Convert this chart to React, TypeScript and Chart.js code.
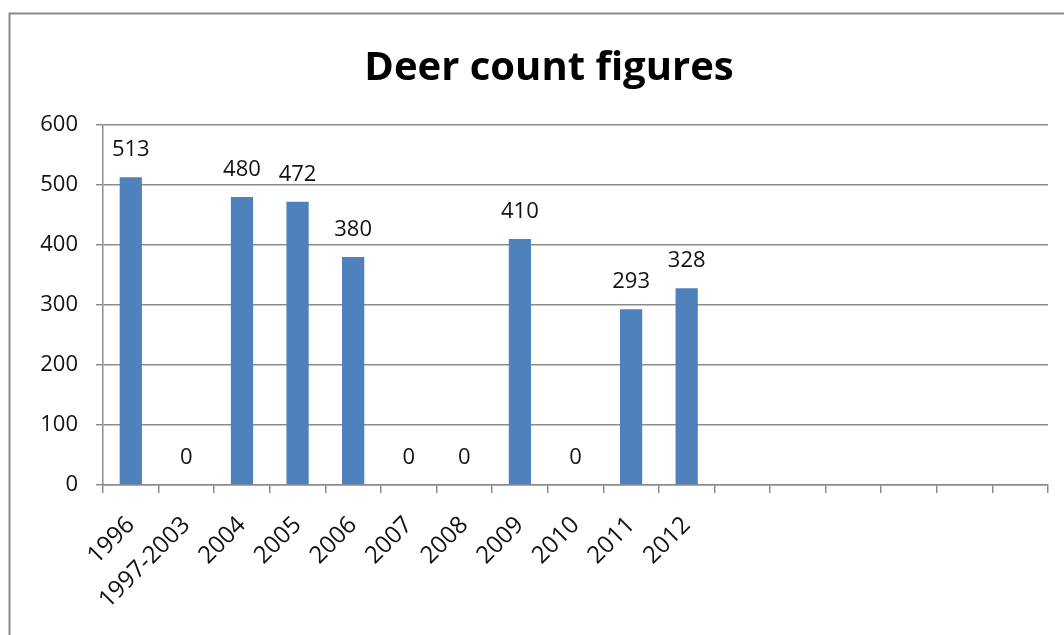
import React, { useEffect, useRef } from "react";
import { Chart, registerables } from "chart.js";

Chart.register(...registerables);

const TITLE = "Deer count figures";
const categories = ["1996", "1997-2003", "2004", "2005", "2006", "2007", "2008", "2009", "2010", "2011", "2012", "", "", "", "", "", ""];
const deerCounts: (number | null)[] = [513, 0, 480, 472, 380, 0, 0, 410, 0, 293, 328, null, null, null, null, null, null];
const yTicks = [0, 100, 200, 300, 400, 500, 600];

const FONT = "'Open Sans', 'Liberation Sans', sans-serif";

const framePlugin = {
  id: "frame",
  beforeDraw(chart: any) {
    const ctx = chart.ctx;
    ctx.save();
    ctx.fillStyle = "#ffffff";
    ctx.fillRect(0, 0, chart.width, chart.height);
    ctx.strokeStyle = "#8a8a8a";
    ctx.lineWidth = 2;
    ctx.strokeRect(9.5, 13.5, 1200, 800);
    ctx.fillStyle = "#000";
    ctx.font = `bold 40px ${FONT}`;
    ctx.textAlign = "center";
    ctx.textBaseline = "alphabetic";
    ctx.fillText(TITLE, 549, 80);
    ctx.restore();
  },
};

const labelPlugin = {
  id: "barLabels",
  afterDatasetsDraw(chart: any) {
    const ctx = chart.ctx;
    const meta = chart.getDatasetMeta(0);
    const data = chart.data.datasets[0].data;
    ctx.save();
    ctx.fillStyle = "#111";
    ctx.font = `22px ${FONT}`;
    ctx.textAlign = "center";
    ctx.textBaseline = "middle";
    meta.data.forEach((bar: any, i: number) => {
      const v = data[i];
      if (v === null || v === undefined) return;
      ctx.fillText(String(v), bar.x, bar.y - 27);
    });
    ctx.restore();
  },
};

export default function App() {
  const ref = useRef<HTMLCanvasElement | null>(null);
  useEffect(() => {
    if (!ref.current) return;
    const chart = new Chart(ref.current, {
      type: "bar",
      data: {
        labels: categories,
        datasets: [
          {
            label: "Deer count",
            data: deerCounts,
            backgroundColor: "#4F81BD",
            borderWidth: 0,
            categoryPercentage: 1,
            barPercentage: 0.4,
          },
        ],
      },
      options: {
        animation: false,
        responsive: true,
        maintainAspectRatio: false,
        layout: { padding: { left: 0, right: 16, top: 125, bottom: 0 } },
        plugins: {
          legend: { display: false },
          title: { display: false },
          tooltip: { enabled: false },
        },
        scales: {
          x: {
            afterFit(scale: any) {
              scale.height = 150;
            },
            grid: {
              offset: true,
              drawOnChartArea: false,
              drawTicks: true,
              tickLength: 8,
              tickColor: "#8c8c8c",
              lineWidth: 1.5,
            },
            border: { color: "#8c8c8c", width: 1.5 },
            ticks: {
              autoSkip: false,
              maxRotation: 45,
              minRotation: 45,
              padding: 18,
              color: "#111",
              font: { family: FONT, size: 24 },
            },
          },
          y: {
            min: 0,
            max: 600,
            afterFit(scale: any) {
              scale.width = 103;
            },
            afterBuildTicks(scale: any) {
              scale.ticks = yTicks.map((v) => ({ value: v }));
            },
            grid: {
              color: "#8c8c8c",
              lineWidth: 1.5,
              tickLength: 7,
              tickColor: "#8c8c8c",
            },
            border: { color: "#8c8c8c", width: 1.5 },
            ticks: {
              padding: 18,
              color: "#111",
              font: { family: FONT, size: 22 },
            },
          },
        },
      },
      plugins: [framePlugin, labelPlugin],
    });
    return () => chart.destroy();
  }, []);
  return (
    <div style={{ position: "fixed", left: 0, top: 0, width: 1064, height: 635, background: "#fff" }}>
      <canvas ref={ref} />
    </div>
  );
}
